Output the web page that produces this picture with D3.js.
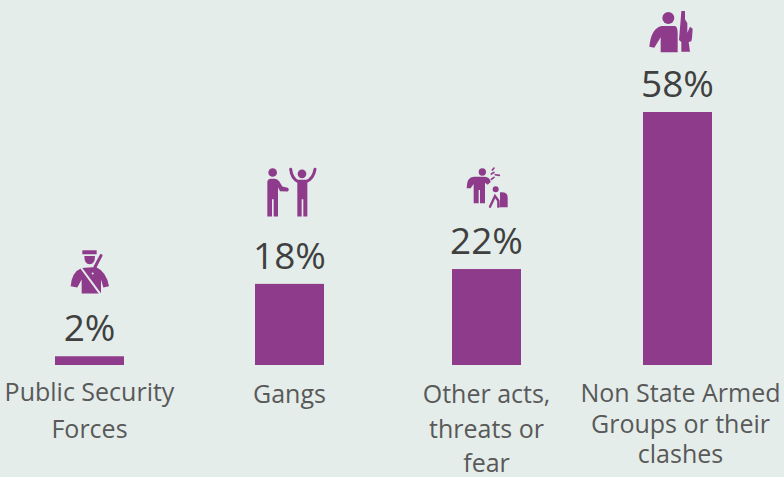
<!DOCTYPE html>
<html>
<head>
<meta charset="utf-8">
<script src="https://cdn.jsdelivr.net/npm/d3@7"></script>
<style>
html, body { margin: 0; padding: 0; background: #e4edea; overflow: hidden; }
svg { display: block; }
</style>
</head>
<body>
<div id="chart"></div>
<script>
window.onload = function(){

// data
const categories = ['Public Security Forces', 'Gangs', 'Other acts, threats or fear', 'Non State Armed Groups or their clashes'];
const values = [2, 18.6, 22, 58];
const valueLabels = ['2%', '18%', '22%', '58%'];
const categoryLines = [
	['Public Security', 'Forces'],
	['Gangs'],
	['Other acts,', 'threats or', 'fear'],
	['Non State Armed', 'Groups or their', 'clashes']
];

const width = 784, height = 477;
const purple = '#8f3b8b', bg = '#e4edea';

// bars are not evenly spaced in the original
let x = d3.scaleOrdinal().domain(categories).range([89.5, 289.5, 486.5, 677.5]);
let y = d3.scaleLinear().domain([0, 58]).range([365, 112]);
const barWidth = 69;
const lineGap = [37, 0, 34.5, 30.5];
const firstLine = [401, 403, 403, 402];
const labelCentreShift = [0, 0, 0, 3];

let svg = d3.select('#chart').append('svg')
	.attr('width', width)
	.attr('height', height);

svg.selectAll('rect.bar').data(categories).enter()
	.append('rect')
	.attr('class', 'bar')
	.attr('x', d => x(d) - barWidth / 2)
	.attr('y', (d, i) => y(values[i]))
	.attr('width', barWidth)
	.attr('height', (d, i) => y(0) - y(values[i]))
	.attr('fill', purple);

svg.selectAll('text.value').data(categories).enter()
	.append('text')
	.attr('class', 'value')
	.attr('x', d => x(d))
	.attr('y', (d, i) => y(values[i]) - 15)
	.attr('text-anchor', 'middle')
	.attr('font-family', 'Open Sans')
	.attr('font-size', 37)
	.attr('fill', '#404040')
	.text((d, i) => valueLabels[i]);

categories.forEach(function(c, i) {
	let t = svg.append('text')
		.attr('text-anchor', 'middle')
		.attr('font-family', 'Open Sans')
		.attr('font-size', 25)
		.attr('fill', '#595959');
	categoryLines[i].forEach(function(line, j) {
		t.append('tspan')
			.attr('x', x(c) + labelCentreShift[i])
			.attr('y', firstLine[i] + j * lineGap[i])
			.text(line);
	});
});

// icons, drawn at 3x and scaled down, placed relative to bar centre and top
function icon(i, dx, dy) {
	return svg.append('g')
		.attr('transform', `translate(${x(categories[i]) + dx},${y(values[i]) + dy}) scale(${1/3})`)
		.attr('fill', purple);
}
function stroke(g, d, w, col) {
	g.append('path').attr('d', d).attr('fill', 'none')
		.attr('stroke', col || purple).attr('stroke-width', w).attr('stroke-linecap', 'round');
}

// police
let p = icon(0, -49.5, -116);
stroke(p, 'M183,46L165,80', 9);
p.append('path').attr('d', 'M127,30L170,30L170,42L127,42Z');
p.append('path').attr('d', 'M133,47L165,47Q165,72 149,72Q133,72 133,47Z');
p.append('path').attr('d', 'M92,138Q95,95 125,83L168,80Q200,95 207,138L190,142L183,118L183,160L125,160L125,118L112,142Z');
stroke(p, 'M124,84L180,160', 6, bg);
p.append('circle').attr('cx', 158).attr('cy', 100).attr('r', 3).attr('fill', bg);

// gangs
let g = icon(1, -39.5, -124);
g.append('circle').attr('cx', 68).attr('cy', 38).attr('r', 13);
g.append('path').attr('d', 'M52,68Q52,57 63,57L75,57Q82,57 88,65L97,80L113,84Q120,90 113,95L90,94L84,82L84,170L71,170L71,118L66,118L66,170L52,170Z');
g.append('circle').attr('cx', 156).attr('cy', 42).attr('r', 13);
g.append('path').attr('d', 'M142,60L172,60L172,170L160,170L160,118L155,118L155,170L142,170Z');
stroke(g, 'M122,28Q125,58 146,66', 9);
stroke(g, 'M195,28Q190,58 167,66', 9);

// other acts
let o = icon(2, -36.5, -109);
o.append('circle').attr('cx', 97).attr('cy', 36).attr('r', 11);
o.append('path').attr('d', 'M50,85Q50,50 72,50L100,50Q120,50 122,66L113,74L105,68L105,130L90,130L90,90L86,90L86,130L71,130L71,72L62,85Z');
stroke(o, 'M127,30L132,24', 5);
stroke(o, 'M124,42L132,37', 5);
stroke(o, 'M136,44L148,46', 5);
stroke(o, 'M124,58L132,52', 5);
o.append('circle').attr('cx', 137).attr('cy', 88).attr('r', 9);
o.append('path').attr('d', 'M150,97Q173,95 173,112L173,142L148,142L150,118Z');
stroke(o, 'M120,140L135,108L145,122L145,140', 7);

// armed groups
let a = icon(3, -37.5, -112);
a.append('circle').attr('cx', 85).attr('cy', 54).attr('r', 18);
a.append('path').attr('d', 'M28,140Q33,85 65,78L105,78Q113,80 113,100L113,157L62,157L62,112L43,143Z');
a.append('path').attr('d', 'M124,33L135,33L135,58L142,70L142,98L150,80L158,86L156,114L154,124L146,126L150,155L124,155L124,126L117,120L122,60Z');

};
</script>
</body>
</html>
